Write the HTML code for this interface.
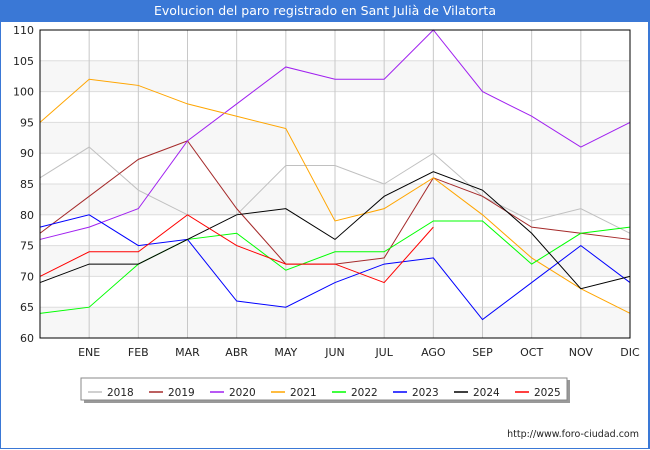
<!DOCTYPE html>
<html><head><meta charset="utf-8"><style>
body{margin:0;width:650px;height:450px;background:#fff;font-family:"DejaVu Sans","Liberation Sans",sans-serif;overflow:hidden}
svg text{font-family:"DejaVu Sans","Liberation Sans",sans-serif}
</style></head><body>
<div style="position:absolute;left:0;top:0;width:647px;height:447px;border:1px solid #3a78d6;border-right:2px solid #3a78d6"></div>
<div style="position:absolute;left:0;top:0;width:650px;height:22px;background:#3a78d6;color:#fff;font-size:12.5px;line-height:22px;text-align:center">Evolucion del paro registrado en Sant Julià de Vilatorta</div>
<svg id="chart" width="650" height="450" style="position:absolute;left:0;top:0"></svg>
<script>
const months=["","ENE","FEB","MAR","ABR","MAY","JUN","JUL","AGO","SEP","OCT","NOV","DIC"];
const yTicks=[60,65,70,75,80,85,90,95,100,105,110];
const seriesNames=["2018","2019","2020","2021","2022","2023","2024","2025"];
const seriesColors=["#c0c0c0","#a52a2a","#a020f0","#ffa500","#00ff00","#0000ff","#000000","#ff0000"];
const s2018=[86,91,84,80,80,88,88,85,90,83,79,81,77];
const s2019=[77,83,89,92,81,72,72,73,86,83,78,77,76];
const s2020=[76,78,81,92,98,104,102,102,110,100,96,91,95];
const s2021=[95,102,101,98,96,94,79,81,86,80,73,68,64];
const s2022=[64,65,72,76,77,71,74,74,79,79,72,77,78];
const s2023=[78,80,75,76,66,65,69,72,73,63,69,75,69];
const s2024=[69,72,72,76,80,81,76,83,87,84,77,68,70];
const s2025=[70,74,74,80,75,72,72,69,78];
const allSeries=[s2018,s2019,s2020,s2021,s2022,s2023,s2024,s2025];
const svg=document.getElementById('chart');const NS="http://www.w3.org/2000/svg";
const L=40,R=630,T=30,B=338;
const x=i=>L+(R-L)*i/12;
const y=v=>B-(v-60)*(B-T)/50;
function mk(t,a,p){const e=document.createElementNS(NS,t);for(const k in a)e.setAttribute(k,a[k]);(p||svg).appendChild(e);return e;}
for(let v=60;v<110;v+=10){const r=mk('rect',{x:L,y:y(v+5),width:R-L,height:y(v)-y(v+5),fill:'#f7f7f7'});

}
yTicks.forEach(v=>{const l=mk('line',{x1:L,x2:R,y1:y(v),y2:y(v),stroke:'#dddddd','stroke-width':1});


const t=mk('text',{x:L-6,y:y(v)+4,'text-anchor':'end','font-size':11,fill:'#222'});t.textContent=v;

});
months.forEach((m,i)=>{if(i>0){const l=mk('line',{x1:x(i),x2:x(i),y1:T,y2:B,stroke:'#c8c8c8','stroke-width':1});


const t=mk('text',{x:x(i),y:B+18,'text-anchor':'middle','font-size':11,fill:'#222'});t.textContent=m;

}});
allSeries.forEach((d,si)=>{const p=mk('polyline',{points:d.map((v,i)=>x(i)+','+y(v)).join(' '),fill:'none',stroke:seriesColors[si],'stroke-width':1});

});
const fr=mk('rect',{x:L,y:T,width:R-L,height:B-T,fill:'none',stroke:'#000','stroke-width':1});


const sh=mk('rect',{x:84,y:380,width:486,height:23,fill:'#999'});


const lg=mk('rect',{x:81,y:378,width:486,height:22,fill:'#fff',stroke:'#888'});


seriesNames.forEach((n,i)=>{const lx=88+i*61;
const l=mk('line',{x1:lx,x2:lx+14,y1:392,y2:392,stroke:seriesColors[i],'stroke-width':1.5});


const t=mk('text',{x:lx+19,y:396,'font-size':10.5,fill:'#222'});t.textContent=n;

});
const w=mk('text',{x:639,y:437,'text-anchor':'end','font-size':9.5,fill:'#222'});w.textContent='http://www.foro-ciudad.com';


</script>
</body></html>
